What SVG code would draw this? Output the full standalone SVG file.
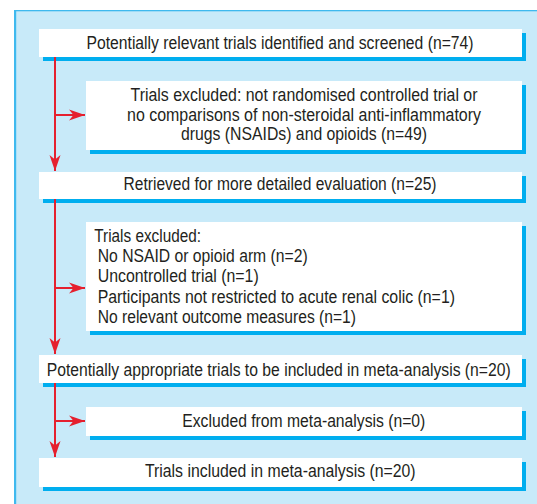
<svg xmlns="http://www.w3.org/2000/svg" width="537" height="504" viewBox="0 0 537 504">
<defs>
<marker id="ah" markerUnits="userSpaceOnUse" markerWidth="18" markerHeight="12" refX="16" refY="6" orient="auto">
<path d="M0,0.5 L16,6 L0,11.5 L4.5,6 Z" fill="#e5202e"/>
</marker>
</defs>
<style>
.box{fill:#ffffff}
.sh{fill:#00aeef}
.t{font-family:"Liberation Sans",Arial,sans-serif;font-size:17.5px;fill:#231f20}
.c{text-anchor:middle}
.ln{stroke:#e5202e;stroke-width:2;fill:none}
</style>
<rect x="14" y="10" width="523" height="494" fill="#c8eaf9"/>
<rect x="14" y="10" width="523" height="1.3" fill="#3fb9ee"/>
<rect x="14" y="10" width="2.2" height="494" fill="#3fb9ee"/>

<g id="n1">
<rect class="sh" x="43" y="33" width="483" height="28"/>
<rect class="box" x="39" y="29" width="483" height="28"/>
<text class="t c" x="280" y="48.8" textLength="387" lengthAdjust="spacingAndGlyphs">Potentially relevant trials identified and screened (n=74)</text>
</g>
<g id="n2">
<rect class="sh" x="90" y="85" width="436" height="69"/>
<rect class="box" x="86" y="81" width="436" height="69"/>
<text class="t c" x="304" y="100.8" textLength="347" lengthAdjust="spacingAndGlyphs">Trials excluded: not randomised controlled trial or</text>
<text class="t c" x="304" y="120.6" textLength="354" lengthAdjust="spacingAndGlyphs">no comparisons of non-steroidal anti-inflammatory</text>
<text class="t c" x="304" y="140.2" textLength="246" lengthAdjust="spacingAndGlyphs">drugs (NSAIDs) and opioids (n=49)</text>
</g>
<g id="n3">
<rect class="sh" x="43" y="176" width="483" height="27"/>
<rect class="box" x="39" y="172" width="483" height="27"/>
<text class="t c" x="280" y="190.3" textLength="313" lengthAdjust="spacingAndGlyphs">Retrieved for more detailed evaluation (n=25)</text>
</g>
<g id="n4">
<rect class="sh" x="90" y="226" width="436" height="109"/>
<rect class="box" x="86" y="222" width="436" height="109"/>
<text class="t" x="94.3" y="241.8" textLength="106.7" lengthAdjust="spacingAndGlyphs">Trials excluded:</text>
<text class="t" x="97.7" y="262.1" textLength="210" lengthAdjust="spacingAndGlyphs">No NSAID or opioid arm (n=2)</text>
<text class="t" x="97.7" y="282.4" textLength="161" lengthAdjust="spacingAndGlyphs">Uncontrolled trial (n=1)</text>
<text class="t" x="97.7" y="302.7" textLength="357.3" lengthAdjust="spacingAndGlyphs">Participants not restricted to acute renal colic (n=1)</text>
<text class="t" x="97.7" y="323" textLength="258.3" lengthAdjust="spacingAndGlyphs">No relevant outcome measures (n=1)</text>
</g>
<g id="n5">
<rect class="sh" x="43" y="359" width="483" height="28"/>
<rect class="box" x="39" y="355" width="483" height="28"/>
<text class="t c" x="278.7" y="375.7" textLength="464" lengthAdjust="spacingAndGlyphs">Potentially appropriate trials to be included in meta-analysis (n=20)</text>
</g>
<g id="n6">
<rect class="sh" x="90" y="411" width="436" height="29"/>
<rect class="box" x="86" y="407" width="436" height="29"/>
<text class="t c" x="303.8" y="427.2" textLength="243" lengthAdjust="spacingAndGlyphs">Excluded from meta-analysis (n=0)</text>
</g>
<g id="n7">
<rect class="sh" x="43" y="462" width="483" height="29"/>
<rect class="box" x="39" y="458" width="483" height="29"/>
<text class="t c" x="280.3" y="477.2" textLength="270.7" lengthAdjust="spacingAndGlyphs">Trials included in meta-analysis (n=20)</text>
</g>

<g id="connectors">
<path class="ln" d="M55,57 V171" marker-end="url(#ah)"/>
<path class="ln" d="M55,115 H85" marker-end="url(#ah)"/>
<path class="ln" d="M55,199 V354" marker-end="url(#ah)"/>
<path class="ln" d="M55,288 H85" marker-end="url(#ah)"/>
<path class="ln" d="M55,383 V457" marker-end="url(#ah)"/>
<path class="ln" d="M55,421 H85" marker-end="url(#ah)"/>
</g>
</svg>
